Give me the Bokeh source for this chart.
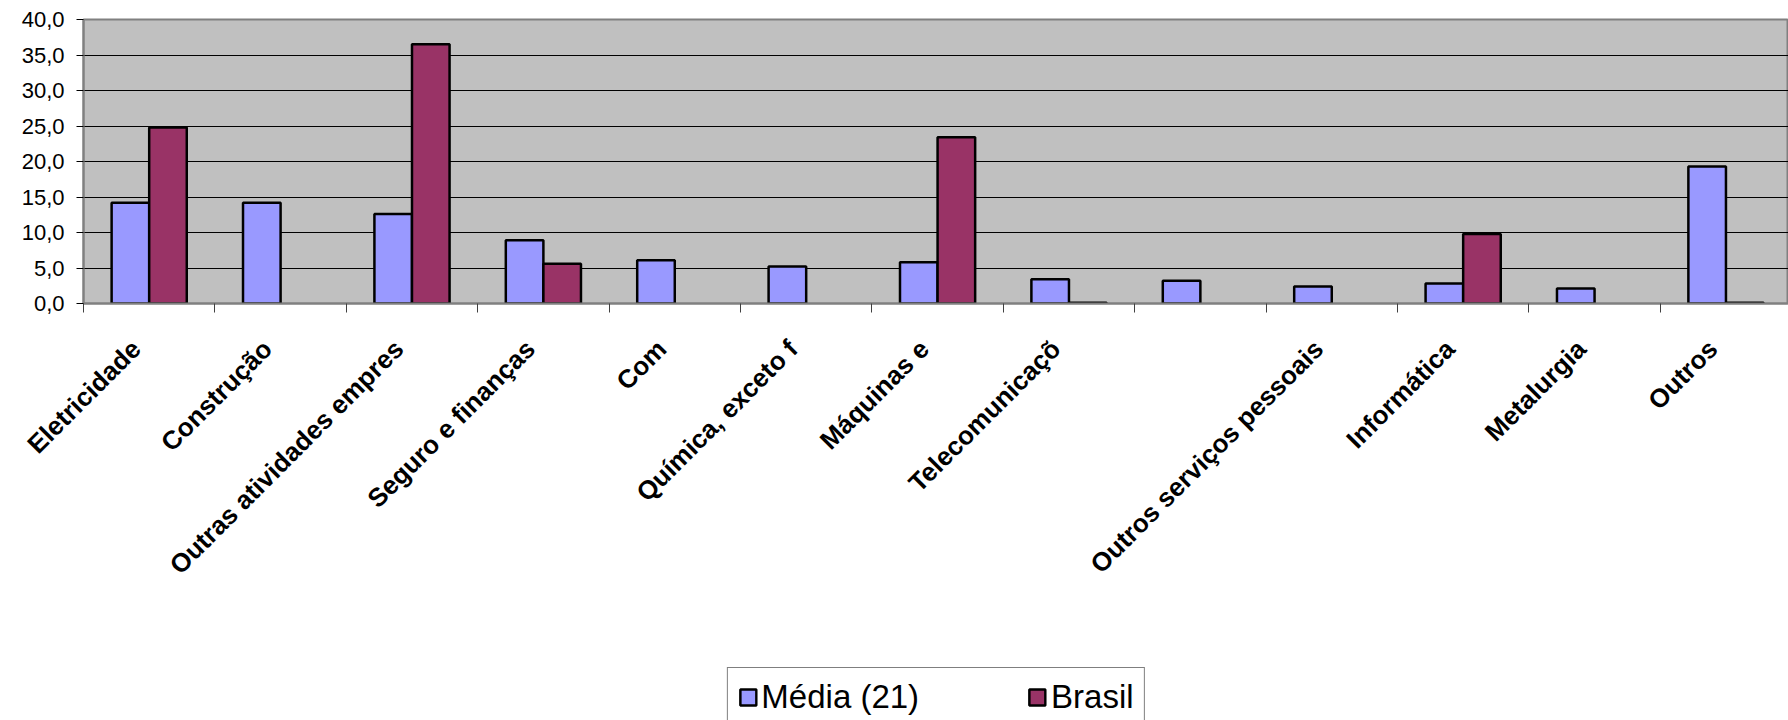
import math
import numpy as np
from bokeh.plotting import figure
from bokeh.layouts import column
from bokeh.models import ColumnDataSource, Range1d, FixedTicker, Legend, LegendItem
from bokeh.transform import dodge
from bokeh.embed import file_html
from bokeh.resources import INLINE

# ---- data ----
categories = ["Eletricidade", "Construção", "Outras atividades empres", "Seguro e finanças",
              "Com", "Química, exceto f", "Máquinas e", "Telecomunicaçõ", "",
              "Outros serviços pessoais", "Informática", "Metalurgia", "Outros"]
media = [14.2, 14.2, 12.6, 8.9, 6.1, 5.2, 5.8, 3.4, 3.2, 2.4, 2.8, 2.1, 19.3]
brasil = [24.8, float("nan"), 36.5, 5.6, float("nan"), float("nan"), 23.4, 0.1,
          float("nan"), float("nan"), 9.8, float("nan"), 0.1]
series_names = ["Média (21)", "Brasil"]
series_colors = ["#9999FF", "#993366"]
y_ticks = [0, 5, 10, 15, 20, 25, 30, 35, 40]
y_tick_labels = ["0,0", "5,0", "10,0", "15,0", "20,0", "25,0", "30,0", "35,0", "40,0"]

n = len(categories)
xc = [i + 0.5 for i in range(n)]
src = ColumnDataSource(dict(x=np.array(xc), media=np.array(media, dtype=float),
                            brasil=np.array(brasil, dtype=float)))

W = 1788
H1 = 667
p = figure(width=W, height=H1, output_backend="svg", toolbar_location=None,
           x_range=Range1d(0, 12.976), y_range=Range1d(0, 40),
           min_border_left=83, min_border_right=0, min_border_top=19, min_border_bottom=H1 - 303,
           background_fill_color="#C0C0C0", border_fill_color="white")
p.outline_line_color = "#808080"
p.outline_line_width = 2

bw = 0.286
r1 = p.vbar(x=dodge("x", -bw / 2), top="media", width=bw, source=src,
            fill_color=series_colors[0], line_color="black", line_width=2.5)
r2 = p.vbar(x=dodge("x", bw / 2), top="brasil", width=bw, source=src,
            fill_color=series_colors[1], line_color="black", line_width=2.5)

# y axis
yax = p.yaxis[0]
yax.ticker = FixedTicker(ticks=y_ticks)
yax.major_label_overrides = {t: l for t, l in zip(y_ticks, y_tick_labels)}
yax.major_label_text_font = "Liberation Sans"
yax.major_label_text_font_size = "22px"
yax.major_label_text_color = "black"
yax.major_tick_out = 7
yax.major_tick_in = 0
yax.major_tick_line_color = "black"
yax.minor_tick_out = 0
yax.minor_tick_in = 0
yax.axis_line_color = "#808080"
yax.axis_line_width = 2
yax.major_label_standoff = 12

# x axis: labels slightly left of the category centres (as in the original), ticks at boundaries
label_pos = [c - 0.1 for c in xc]
xax = p.xaxis[0]
xax.ticker = FixedTicker(ticks=label_pos, minor_ticks=list(range(n + 1)))
xax.major_label_overrides = {t: c for t, c in zip(label_pos, categories)}
xax.major_label_orientation = math.pi / 4
xax.major_label_text_font = "Liberation Sans"
xax.major_label_text_font_style = "bold"
xax.major_label_text_font_size = "26px"
xax.major_label_text_color = "black"
xax.major_tick_out = 0
xax.major_tick_in = 0
xax.minor_tick_out = 9
xax.minor_tick_in = 0
xax.minor_tick_line_color = "#404040"
xax.axis_line_color = "#808080"
xax.axis_line_width = 2
xax.major_label_standoff = 32

# grid
p.xgrid.visible = False
p.ygrid.ticker = FixedTicker(ticks=y_ticks)
p.ygrid.grid_line_color = "black"
p.ygrid.grid_line_width = 1

# ---- legend strip below the chart ----
H2 = 720 - H1
lg = figure(width=W, height=H2, output_backend="svg", toolbar_location=None,
            x_range=Range1d(0, 1), y_range=Range1d(0, 1),
            x_axis_location=None, y_axis_location=None,
            min_border_left=72, min_border_right=0, min_border_top=0, min_border_bottom=0,
            background_fill_color="white", border_fill_color="white")
lg.outline_line_color = None
lg.xgrid.visible = False
lg.ygrid.visible = False
k1 = lg.vbar(x=dodge("x", -bw / 2), top="media", width=bw, source=src, visible=False,
             fill_color=series_colors[0], line_color="black", line_width=2.5)
k2 = lg.vbar(x=dodge("x", bw / 2), top="brasil", width=bw, source=src, visible=False,
             fill_color=series_colors[1], line_color="black", line_width=2.5)

legend = Legend(items=[LegendItem(label=series_names[0], renderers=[k1]),
                       LegendItem(label=series_names[1], renderers=[k2])],
                orientation="horizontal", location="top_center", margin=0, padding=10,
                border_line_color="black", border_line_width=1,
                background_fill_color="white", background_fill_alpha=1,
                inactive_fill_alpha=0,
                label_text_font="Liberation Sans", label_text_font_size="33px",
                label_text_color="black",
                label_height=33, glyph_width=20, glyph_height=20, label_standoff=4, spacing=108)
lg.add_layout(legend)

layout = column(p, lg, spacing=0)
open("out.html", "w").write(file_html(layout, INLINE))
